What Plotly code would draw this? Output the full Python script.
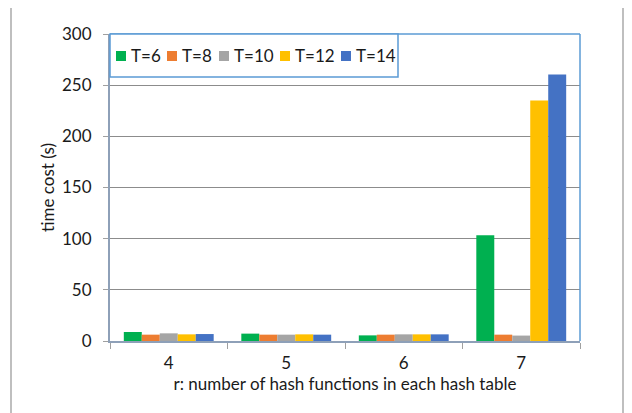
import plotly.graph_objects as go

categories = ["4", "5", "6", "7"]
series_names = ["T=6", "T=8", "T=10", "T=12", "T=14"]
t6 = [8.8, 7.2, 5.5, 103.3]
t8 = [6.2, 6.2, 6.2, 6.2]
t10 = [7.5, 6.2, 6.5, 5.3]
t12 = [6.5, 6.5, 6.5, 235]
t14 = [6.8, 6.2, 6.5, 260.5]
y_ticks = [0, 50, 100, 150, 200, 250, 300]

colors = ["#00B050", "#ED7D31", "#A5A5A5", "#FFC000", "#4472C4"]
values = [t6, t8, t10, t12, t14]

FONT = "Lato, Carlito, Calibri, sans-serif"
TXT = "#1a1a1a"
FS = 17

# page body margin offset (default 8px) compensated
OFF = 8
FW, FH = 632, 413
# plot area in target-image pixels
L, R, T, B = 110, 580, 34, 341
W, H = R - L, B - T


def px(x):
    return (x - L) / W


def py(y):
    return (B - y) / H


fig = go.Figure()
for name, vals, c in zip(series_names, values, colors):
    fig.add_trace(go.Bar(x=categories, y=vals, name=name, showlegend=False,
                         marker=dict(color=c, line=dict(width=0))))

shapes = [
    # outer chart border
    dict(type="rect", xref="paper", yref="paper",
         x0=px(11), x1=px(623), y0=py(430), y1=py(3),
         line=dict(color="#BFBFBF", width=2), layer="below"),
    # plot area top & right border (blue)
    dict(type="line", xref="paper", yref="paper", x0=0, x1=1, y0=1, y1=1,
         line=dict(color="#5B9BD5", width=1.5)),
    dict(type="line", xref="paper", yref="paper", x0=1, x1=1, y0=0, y1=1,
         line=dict(color="#5B9BD5", width=1.5)),
    # legend box
    dict(type="rect", xref="paper", yref="paper",
         x0=px(110), x1=px(398), y0=py(77), y1=py(34),
         line=dict(color="#5B9BD5", width=1.5), fillcolor="white", layer="above"),
]
annotations = []
sq_x = [116, 167, 219, 280, 341]
for name, c, sx in zip(series_names, colors, sq_x):
    shapes.append(dict(type="rect", xref="paper", yref="paper",
                       x0=px(sx), x1=px(sx + 10), y0=py(61), y1=py(51),
                       fillcolor=c, line=dict(width=0), layer="above"))
    annotations.append(dict(text=name, xref="paper", yref="paper",
                            x=px(sx + 13), y=py(55.5), xanchor="left", yanchor="middle",
                            showarrow=False,
                            font=dict(family=FONT, size=FS, color=TXT)))

fig.update_layout(
    width=FW, height=FH,
    margin=dict(l=L - OFF, r=FW - R + OFF, t=T - OFF, b=FH - B + OFF, autoexpand=False),
    paper_bgcolor="white", plot_bgcolor="white",
    barmode="group", bargap=0.235, bargroupgap=0,
    font=dict(family=FONT, size=FS, color=TXT),
    showlegend=False,
    xaxis=dict(showline=True, linecolor="#8EA0B8", linewidth=2,
               ticks="outside", ticklen=6, tickcolor="#A0A0A0",
               tickson="boundaries", showgrid=False, automargin=False,
               ticklabelstandoff=6,
               title=dict(text="r: number of hash functions in each hash table",
                          font=dict(family=FONT, size=FS, color=TXT), standoff=0),
               tickfont=dict(family=FONT, size=FS, color=TXT)),
    yaxis=dict(range=[0, 300], tickvals=y_ticks, showline=True,
               linecolor="#8EA0B8", linewidth=2,
               ticks="outside", ticklen=5, tickcolor="#A0A0A0",
               showgrid=True, gridcolor="#8C8C8C", gridwidth=1,
               zeroline=False, automargin=False, ticklabelstandoff=8,
               title=dict(text="time cost (s)",
                          font=dict(family=FONT, size=FS, color=TXT), standoff=3),
               tickfont=dict(family=FONT, size=FS, color=TXT)),
    shapes=shapes,
    annotations=annotations,
)

fig.write_html("out.html")
